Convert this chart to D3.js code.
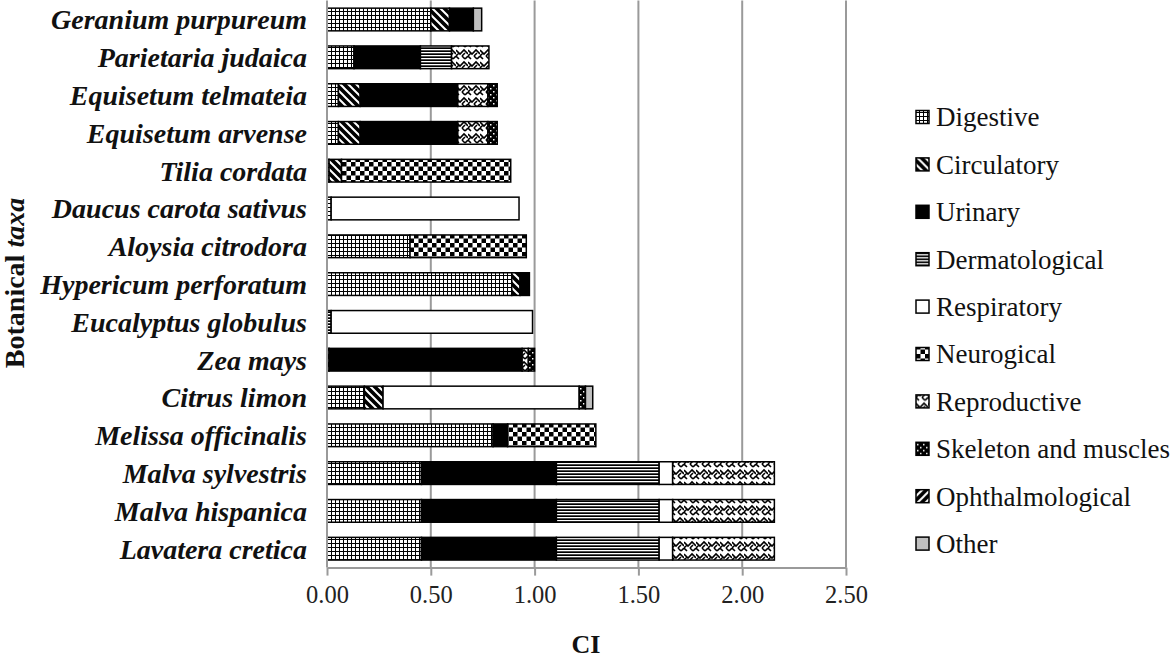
<!DOCTYPE html>
<html><head><meta charset="utf-8">
<script src="https://cdn.jsdelivr.net/npm/d3@7/dist/d3.min.js"></script>
<style>body{margin:0;background:#fff}svg{display:block}</style>
</head><body><svg id="c" width="1176" height="662"></svg>
<script>
const categories = ["Geranium purpureum","Parietaria judaica","Equisetum telmateia","Equisetum arvense","Tilia cordata","Daucus carota sativus","Aloysia citrodora","Hypericum perforatum","Eucalyptus globulus","Zea mays","Citrus limon","Melissa officinalis","Malva sylvestris","Malva hispanica","Lavatera cretica"];
const seriesNames = ["Digestive","Circulatory","Urinary","Dermatological","Respiratory","Neurogical","Reproductive","Skeleton and muscles","Ophthalmological","Other"];
const digestive       = [0.50,0.13,0.055,0.055,0.01,0.02,0.40,0.89,0,0,0.18,0.80,0.455,0.455,0.455];
const circulatory     = [0.09,0,0.105,0.105,0.06,0,0,0.04,0,0.01,0.09,0,0,0,0];
const urinary         = [0.115,0.32,0.47,0.47,0,0,0,0.045,0,0.93,0,0.07,0.65,0.65,0.65];
const dermatological  = [0,0.15,0,0,0,0,0,0,0.02,0,0,0,0.495,0.495,0.495];
const respiratory     = [0,0,0,0,0,0.905,0,0,0.97,0,0.945,0,0.065,0.065,0.065];
const neurological    = [0,0,0,0,0.815,0,0.56,0,0,0,0,0.425,0,0,0];
const reproductive    = [0,0.18,0.145,0.145,0,0,0,0,0,0.03,0,0,0.49,0.49,0.49];
const skeleton        = [0,0,0.045,0.045,0,0,0,0,0,0.03,0.03,0,0,0,0];
const ophthalmological= [0,0,0,0,0,0,0,0,0,0,0,0,0,0,0];
const other           = [0.04,0,0,0,0,0,0,0,0,0,0.035,0,0,0,0];
const xTicks = [0,0.5,1,1.5,2,2.5];

const seriesValues = [digestive,circulatory,urinary,dermatological,respiratory,neurological,reproductive,skeleton,ophthalmological,other];
const FONT = '"Liberation Serif","Times New Roman",Times,serif';
const svg = d3.select("#c");
const defs = svg.append("defs");
function pat(id,w,h,draw){const p=defs.append("pattern").attr("id",id).attr("patternUnits","userSpaceOnUse").attr("width",w).attr("height",h);draw(p);}
pat("p0",4,4,p=>{p.append("rect").attr("width",4).attr("height",4).attr("fill","#fff");p.append("rect").attr("x",3).attr("width",1).attr("height",4).attr("fill","#000");p.append("rect").attr("y",3).attr("width",4).attr("height",1).attr("fill","#000");});
pat("p1",8,8,p=>{p.append("rect").attr("width",8).attr("height",8).attr("fill","#000");p.append("path").attr("d","M0,0L8,8M-4,4L4,12M4,-4L12,4").attr("stroke","#fff").attr("stroke-width",2);});
pat("p2",4,4,p=>{p.append("rect").attr("width",4).attr("height",4).attr("fill","#000");});
pat("p3",4,3,p=>{p.append("rect").attr("width",4).attr("height",3).attr("fill","#000");p.append("rect").attr("y",1).attr("width",4).attr("height",1.3).attr("fill","#fff");});
pat("p4",4,4,p=>{p.append("rect").attr("width",4).attr("height",4).attr("fill","#fff");});
pat("p5",9,9,p=>{p.append("rect").attr("width",9).attr("height",9).attr("fill","#fff");p.append("rect").attr("width",4.5).attr("height",4.5).attr("fill","#000");p.append("rect").attr("x",4.5).attr("y",4.5).attr("width",4.5).attr("height",4.5).attr("fill","#000");});
pat("p6",12,12,p=>{p.append("rect").attr("width",12).attr("height",12).attr("fill","#fff");p.append("path").attr("d","M0,2L4,6L8,2L12,6M0,8L3,11M6,8L9,11M3,5L0,8M9,5L6,8M12,8L9,11").attr("stroke","#000").attr("stroke-width",1.6).attr("fill","none");});
pat("p7",6,6,p=>{p.append("rect").attr("width",6).attr("height",6).attr("fill","#000");p.append("rect").attr("x",1).attr("y",1).attr("width",1.5).attr("height",1.5).attr("fill","#fff");p.append("rect").attr("x",4).attr("y",4).attr("width",1.5).attr("height",1.5).attr("fill","#fff");});
pat("p8",8,8,p=>{p.append("rect").attr("width",8).attr("height",8).attr("fill","#000");p.append("path").attr("d","M0,8L8,0M-4,4L4,-4M4,12L12,4").attr("stroke","#fff").attr("stroke-width",2);});
pat("p9",4,4,p=>{p.append("rect").attr("width",4).attr("height",4).attr("fill","#c0c0c0");});

const x0=327,x1=846,yTop=0.6,yBot=567.6;
const x = d3.scaleLinear().domain([0,2.5]).range([x0,x1]);
const y = d3.scaleBand().domain(categories).range([yTop,yBot]).paddingInner(0.4).paddingOuter(0.2);

svg.append("g").selectAll("line").data(xTicks.slice(1)).join("line")
  .attr("x1",d=>x(d)).attr("x2",d=>x(d)).attr("y1",yTop).attr("y2",yBot)
  .attr("stroke","#9a9a9a").attr("stroke-width",2);

const rows = categories.map((c,i)=>{const o={cat:c};seriesNames.forEach((s,j)=>o[s]=seriesValues[j][i]);return o;});
const stack = d3.stack().keys(seriesNames)(rows);
svg.append("g").selectAll("g").data(stack).join("g")
  .attr("fill",(d,i)=>`url(#p${i})`)
  .selectAll("rect").data(d=>d.filter(v=>v[1]-v[0]>0)).join("rect")
  .attr("x",d=>x(d[0])).attr("width",d=>x(d[1])-x(d[0]))
  .attr("y",d=>y(d.data.cat)).attr("height",y.bandwidth())
  .attr("stroke","#000").attr("stroke-width",1.5);

svg.append("line").attr("x1",x0).attr("x2",x0).attr("y1",yTop).attr("y2",yBot).attr("stroke","#9a9a9a").attr("stroke-width",2);

const ax = svg.append("g").attr("transform",`translate(0,${yBot})`)
  .call(d3.axisBottom(x).tickValues(xTicks).tickFormat(d3.format(".2f")).tickSize(8).tickSizeOuter(0));
ax.attr("font-family",null).attr("font-size",null);
ax.select(".domain").attr("stroke","#9a9a9a").attr("stroke-width",2);
ax.selectAll(".tick line").attr("stroke","#9a9a9a").attr("stroke-width",2);
ax.selectAll(".tick text").style("font-family",FONT).style("font-size","24.5px").attr("fill","#222").attr("y",0).attr("dy","1.45em");

svg.append("g").selectAll("text").data(categories).join("text")
  .attr("x",307).attr("y",d=>y(d)+y.bandwidth()/2).attr("dy","0.35em")
  .attr("text-anchor","end").style("font-family",FONT)
  .style("font-weight","bold").style("font-style","italic").style("font-size","28px").attr("fill","#111")
  .text(d=>d);

svg.append("text").attr("x",586).attr("y",653).attr("text-anchor","middle")
  .style("font-family",FONT).style("font-weight","bold").style("font-size","26px").attr("fill","#111").text("CI");
const yt = svg.append("text").attr("transform","translate(24,283) rotate(-90)").attr("text-anchor","middle")
  .style("font-family",FONT).style("font-weight","bold").style("font-size","28px").attr("fill","#111");
yt.append("tspan").text("Botanical ");
yt.append("tspan").style("font-style","italic").text("taxa");

const lg = svg.append("g").selectAll("g").data(seriesNames).join("g")
  .attr("transform",(d,i)=>`translate(916,${117+i*47.4})`);
lg.append("rect").attr("x",0).attr("y",-6.5).attr("width",13).attr("height",13)
  .attr("fill",(d,i)=>`url(#p${i})`).attr("stroke","#000").attr("stroke-width",1.5);
lg.append("text").attr("x",20).attr("dy","0.35em").style("font-family",FONT)
  .style("font-size","27px").attr("fill","#111").text(d=>d);
</script></body></html>
